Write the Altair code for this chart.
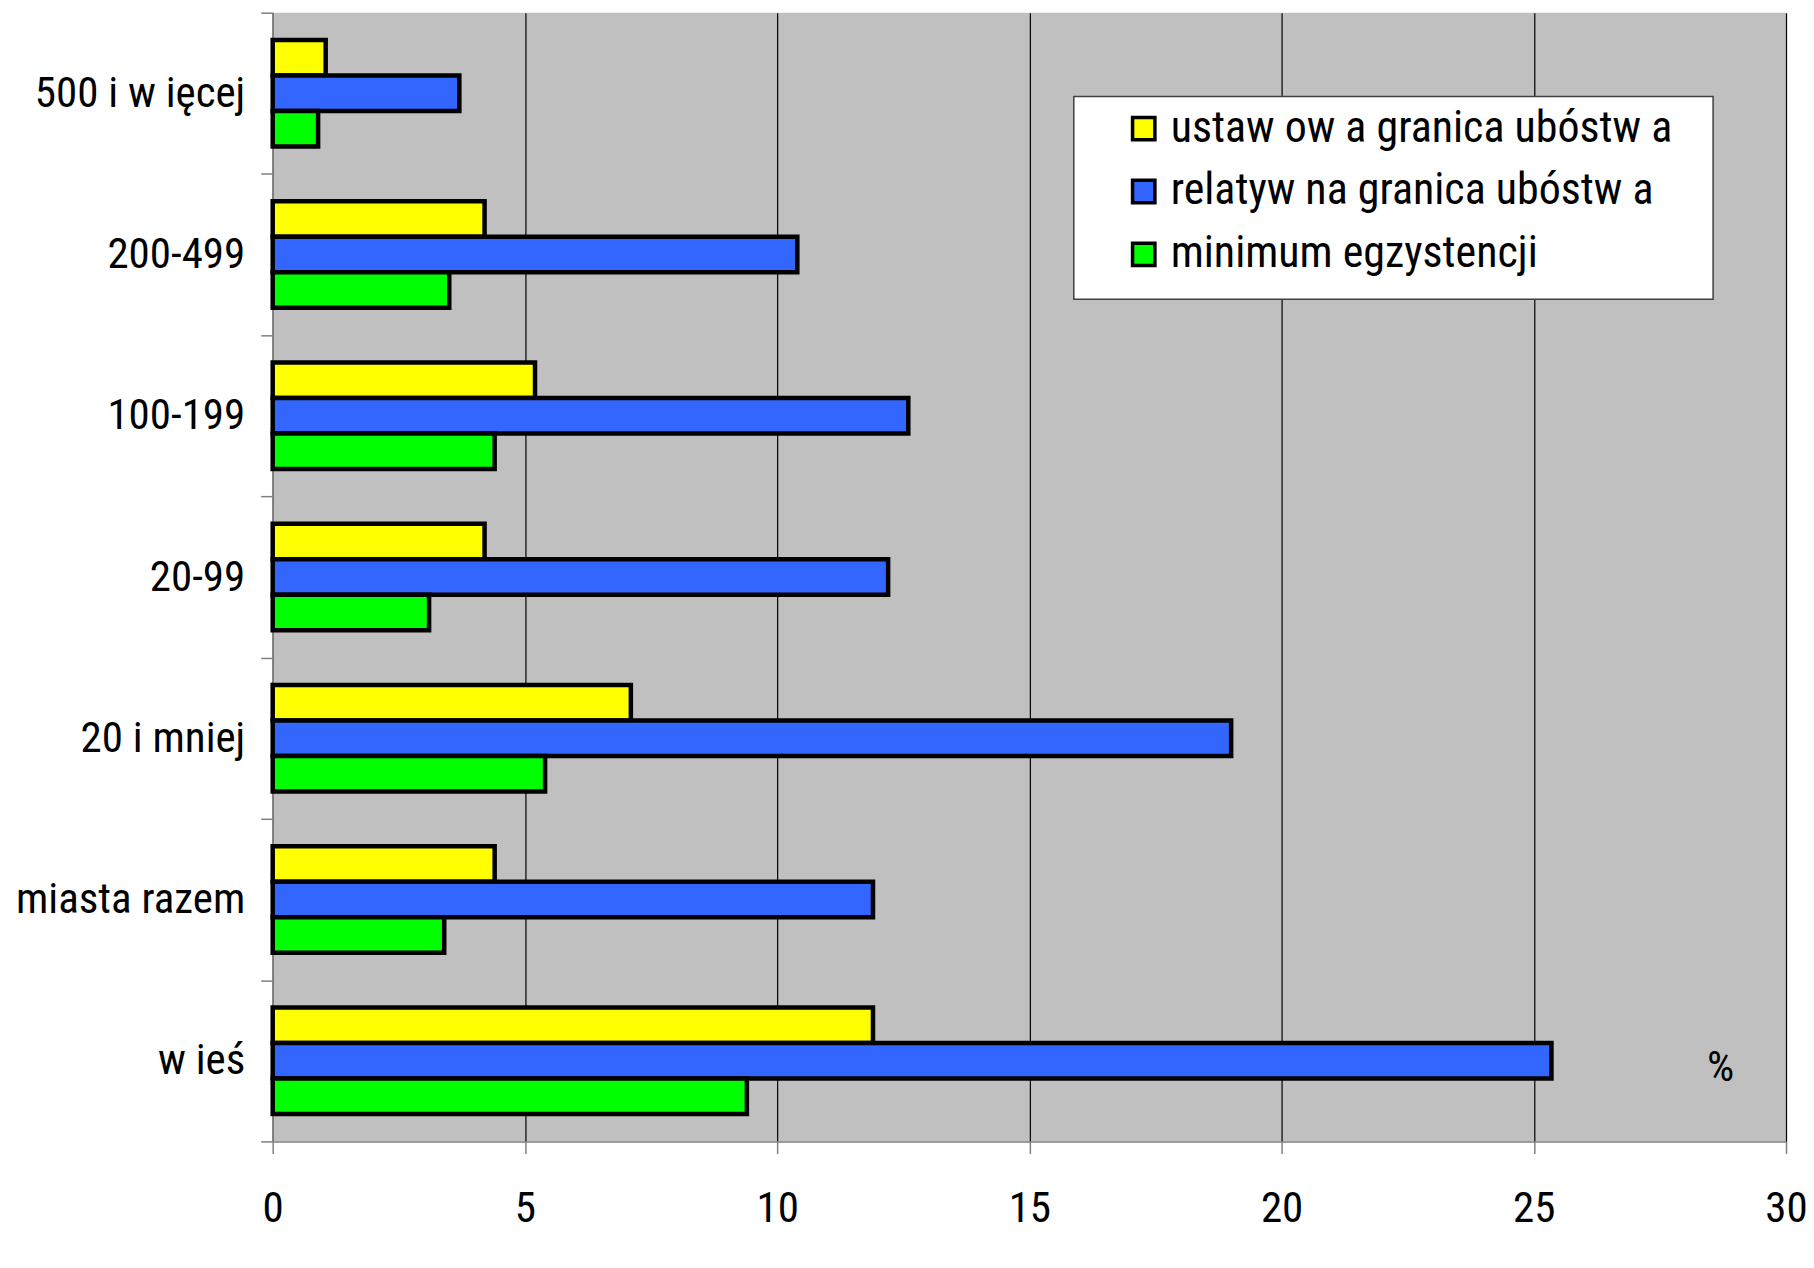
import altair as alt
import pandas as pd

categories = ["500 i w ięcej", "200-499", "100-199", "20-99", "20 i mniej", "miasta razem", "w ieś"]
series = ["ustaw ow a granica ubóstw a", "relatyw na granica ubóstw a", "minimum egzystencji"]
colors = ["#FFFF00", "#3366FF", "#00FF00"]
ustawowa = [1.05, 4.2, 5.2, 4.2, 7.1, 4.4, 11.9]
relatywna = [3.7, 10.4, 12.6, 12.2, 19.0, 11.9, 25.35]
minimum = [0.9, 3.5, 4.4, 3.1, 5.4, 3.4, 9.4]
x_ticks = [0, 5, 10, 15, 20, 25, 30]

rows = []
for s, vals in zip(series, [ustawowa, relatywna, minimum]):
    for c, v in zip(categories, vals):
        rows.append({"category": c, "series": s, "value": v})
df = pd.DataFrame(rows)

FONT = "Roboto Condensed, DejaVu Sans Condensed, Liberation Sans Narrow, Liberation Sans, sans-serif"
FS = 43

bars = alt.Chart(df).mark_bar(stroke="black", strokeWidth=4.5, opacity=1).encode(
    x=alt.X(
        "value:Q",
        scale=alt.Scale(domain=[0, 30], nice=False, zero=True),
        axis=alt.Axis(
            values=x_ticks, grid=True, gridColor="black", gridWidth=1.2,
            domainColor="#808080", domainWidth=1.5, tickColor="#808080", tickWidth=1.5,
            tickSize=12, labelFontSize=FS, labelPadding=34, labelColor="black",
            labelFont=FONT, labelFlush=False, labelOverlap=False,
            title="%", titleFont=FONT, titleFontSize=FS, titleFontWeight="normal",
            titleX=1449, titleY=-74, titleAlign="center", titleBaseline="middle",
            titleColor="black",
        ),
    ),
    y=alt.Y(
        "category:N", sort=categories,
        scale=alt.Scale(paddingInner=0, paddingOuter=0),
        axis=alt.Axis(
            title=None, grid=False, tickBand="extent", tickSize=12,
            tickColor="#808080", tickWidth=1.5, domainColor="#808080", domainWidth=1.5,
            labelPadding=16, labelFontSize=FS, labelFont=FONT, labelColor="black",
            labelLimit=0,
        ),
    ),
    yOffset=alt.YOffset("series:N", sort=series,
                        scale=alt.Scale(paddingOuter=0.77, paddingInner=0)),
    color=alt.Color(
        "series:N", sort=series,
        scale=alt.Scale(domain=series, range=colors),
        legend=alt.Legend(
            title=None, orient="none", legendX=850, legendY=94, padding=0,
            symbolType="square", symbolSize=500, symbolStrokeColor="black",
            symbolStrokeWidth=3.5, symbolOpacity=1, labelFont=FONT, labelFontSize=44,
            labelColor="black", labelOffset=5, rowPadding=19, labelLimit=0,
        ),
    ),
)

box = alt.Chart(alt.Data(values=[{}])).mark_rect(
    fill="white", stroke="#404040", strokeWidth=1.5
).encode(
    x=alt.value(802), x2=alt.value(1442), y=alt.value(84), y2=alt.value(287)
)

chart = alt.layer(bars, box).properties(
    width=1515, height=1130,
    autosize=alt.AutoSizeParams(type="none"),
    padding={"left": 265, "top": 4, "right": 20, "bottom": 120},
    background="white",
).configure(font=FONT).configure_view(fill="#C0C0C0", strokeWidth=0)

chart.save("out.html", embed_options={"renderer": "svg", "actions": False})
